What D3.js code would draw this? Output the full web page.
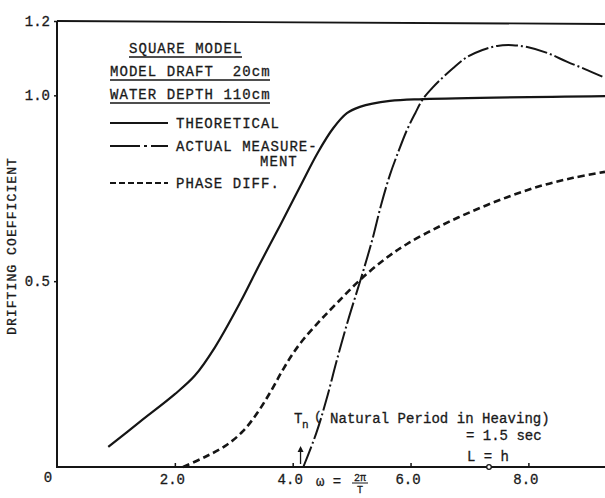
<!DOCTYPE html>
<html>
<head>
<meta charset="utf-8">
<script src="https://cdn.jsdelivr.net/npm/d3@7/dist/d3.min.js"></script>
<style>
  html, body { margin: 0; padding: 0; background: #fff; }
  svg text { font-family: "Liberation Mono", "DejaVu Sans Mono", monospace; fill: #1a1a1a;
             stroke: #1a1a1a; stroke-width: 0.3; }
</style>
</head>
<body>
<svg id="chart" width="605" height="498"></svg>
<script>
// données (omega, coefficient)
const theoretical = [
  [0.87, 0.054], [1.41, 0.122], [2.0, 0.196], [2.34, 0.246], [2.68, 0.322],
  [3.11, 0.443], [3.45, 0.549], [3.79, 0.651], [4.13, 0.756], [4.43, 0.847],
  [4.69, 0.912], [4.92, 0.952], [5.14, 0.969], [5.65, 0.985], [6.21, 0.99],
  [9.3, 0.998]
];
const measured = [
  [4.18, 0.0], [4.4, 0.091], [4.57, 0.18], [4.75, 0.288], [4.94, 0.395],
  [5.16, 0.508], [5.35, 0.611], [5.5, 0.705], [5.65, 0.786], [5.79, 0.847],
  [5.94, 0.907], [6.08, 0.952], [6.21, 0.99], [6.37, 1.02], [6.5, 1.041],
  [6.72, 1.073], [6.96, 1.103], [7.22, 1.122], [7.47, 1.133], [7.73, 1.135],
  [7.98, 1.13], [8.32, 1.114], [8.66, 1.09], [9.0, 1.068], [9.3, 1.047]
];
const phaseDiff = [
  [2.14, 0.0], [2.51, 0.027], [2.85, 0.056], [3.16, 0.097], [3.41, 0.148],
  [3.63, 0.204], [3.82, 0.258], [3.99, 0.302], [4.19, 0.345], [4.47, 0.395],
  [4.75, 0.441], [5.14, 0.503], [5.57, 0.56], [5.94, 0.6], [6.5, 0.648],
  [7.06, 0.689], [7.64, 0.726], [8.2, 0.756], [8.76, 0.778], [9.3, 0.794]
];
const xTicks = [2, 4, 6, 8];
const yTicks = [0.5, 1.0, 1.2];
const infoLines = ["SQUARE MODEL", "MODEL DRAFT  20cm", "WATER DEPTH 110cm"];
const legendItems = [
  { label: ["THEORETICAL"], dash: null },
  { label: ["ACTUAL MEASURE-", "MENT"], dash: "30,4,3,4" },
  { label: ["PHASE DIFF."], dash: "6,3" }
];

const svg = d3.select("#chart");
const x = d3.scaleLinear().domain([0, 9.3]).range([57, 605]);
const y = d3.scaleLinear().domain([0, 1.2]).range([467, 21]);
const ink = "#151515";

// axes
const ax = svg.append("g").attr("transform", `translate(0,${y(0)})`)
  .call(d3.axisBottom(x).tickValues(xTicks).tickSize(-4).tickPadding(9)
    .tickFormat(d3.format(".1f")));
ax.select(".domain").attr("stroke", ink).attr("stroke-width", 2.2).attr("d", `M${x(0) - 1},0H605`);
ax.selectAll(".tick line").attr("stroke", ink).attr("stroke-width", 1.5);
ax.selectAll(".tick text").attr("font-size", 14).attr("dy", "0.55em").attr("dx", -3);

const ay = svg.append("g").attr("transform", `translate(${x(0)},0)`)
  .call(d3.axisLeft(y).tickValues(yTicks).tickSize(3).tickPadding(4)
    .tickFormat(d3.format(".1f")));
ay.select(".domain").attr("stroke", ink).attr("stroke-width", 2).attr("d", `M0,${y(0)}V${y(1.2)}`);
ay.selectAll(".tick line").attr("stroke", ink).attr("stroke-width", 1.5);
ay.selectAll(".tick text").attr("font-size", 14);

// cadre supérieur
svg.append("line").attr("x1", x(0)).attr("x2", 605).attr("y1", y(1.2)).attr("y2", y(1.2) + 3)
  .attr("stroke", ink).attr("stroke-width", 1.8);

svg.append("text").attr("x", x(0) - 9).attr("y", 482).attr("text-anchor", "middle")
  .attr("font-size", 14).text("0");

// titre de l'axe Y
svg.append("text").attr("transform", "translate(16,246) rotate(-90)")
  .attr("text-anchor", "middle").attr("font-size", 13).attr("letter-spacing", 1.1)
  .text("DRIFTING COEFFICIENT");

// titre de l'axe X : omega = 2pi / T
const xt = svg.append("g").attr("transform", "translate(316,486)");
xt.append("text").attr("x", 0).attr("y", 0).attr("font-size", 14).text("ω =");
xt.append("text").attr("x", 44).attr("y", -5).attr("text-anchor", "middle").attr("font-size", 10).text("2π");
xt.append("line").attr("x1", 36).attr("x2", 52).attr("y1", -3).attr("y2", -3).attr("stroke", ink).attr("stroke-width", 1);
xt.append("text").attr("x", 44).attr("y", 7).attr("text-anchor", "middle").attr("font-size", 10).text("T");

// courbes
const line = d3.line().x(d => x(d[0])).y(d => y(d[1])).curve(d3.curveCatmullRom.alpha(0.5));
svg.append("path").datum(theoretical).attr("d", line)
  .attr("fill", "none").attr("stroke", ink).attr("stroke-width", 2.2);
svg.append("path").datum(measured).attr("d", line)
  .attr("fill", "none").attr("stroke", ink).attr("stroke-width", 2)
  .attr("stroke-dasharray", "22,3,2,3");
svg.append("path").datum(phaseDiff).attr("d", line)
  .attr("fill", "none").attr("stroke", ink).attr("stroke-width", 2.6)
  .attr("stroke-dasharray", "7,4");

// bloc d'informations souligné
const infoX = [129, 110, 110];
const infoY = [53, 76, 99];
const infoW = [113, 160, 160];
infoLines.forEach((t, i) => {
  svg.append("text").attr("x", infoX[i]).attr("y", infoY[i]).attr("font-size", 14)
    .attr("letter-spacing", 1.05).style("white-space", "pre").text(t);
  svg.append("line").attr("x1", infoX[i]).attr("x2", infoX[i] + infoW[i])
    .attr("y1", infoY[i] + 4).attr("y2", infoY[i] + 4).attr("stroke", ink).attr("stroke-width", 1.4);
});

// légende
const legY = [123, 146, 183];
legendItems.forEach((it, i) => {
  svg.append("line").attr("x1", 110).attr("x2", 168).attr("y1", legY[i]).attr("y2", legY[i])
    .attr("stroke", ink).attr("stroke-width", 2.2).attr("stroke-dasharray", it.dash);
  it.label.forEach((t, j) => {
    svg.append("text").attr("x", j === 0 ? 176 : 260).attr("y", legY[i] + 5 + j * 15)
      .attr("font-size", 14).attr("letter-spacing", 1.05).text(t);
  });
});

// annotation période propre
const an = svg.append("g");
an.append("text").attr("x", 294).attr("y", 423).attr("font-size", 14).text("T");
an.append("text").attr("x", 302).attr("y", 428).attr("font-size", 11).text("n");
an.append("text").attr("x", 314).attr("y", 420).attr("font-size", 13).text("(");
an.append("text").attr("x", 330).attr("y", 423).attr("font-size", 14).attr("letter-spacing", 0.05)
  .text("Natural Period in Heaving)");
an.append("text").attr("x", 466).attr("y", 440).attr("font-size", 14).text("= 1.5 sec");
an.append("text").attr("x", 467).attr("y", 461).attr("font-size", 14).text("L = h");
an.append("circle").attr("cx", 489).attr("cy", y(0)).attr("r", 2.3)
  .attr("fill", "#fff").attr("stroke", ink).attr("stroke-width", 1.3);
an.append("path").attr("d", `M${x(4.15) - 1},${y(0) - 3}L${x(4.15) - 1},${y(0) - 19}`)
  .attr("stroke", ink).attr("stroke-width", 1.3).attr("fill", "none");
an.append("path").attr("d", `M${x(4.15) - 4},${y(0) - 15}L${x(4.15) - 1},${y(0) - 21}L${x(4.15) + 2},${y(0) - 15}Z`)
  .attr("fill", ink);
</script>
</body>
</html>
